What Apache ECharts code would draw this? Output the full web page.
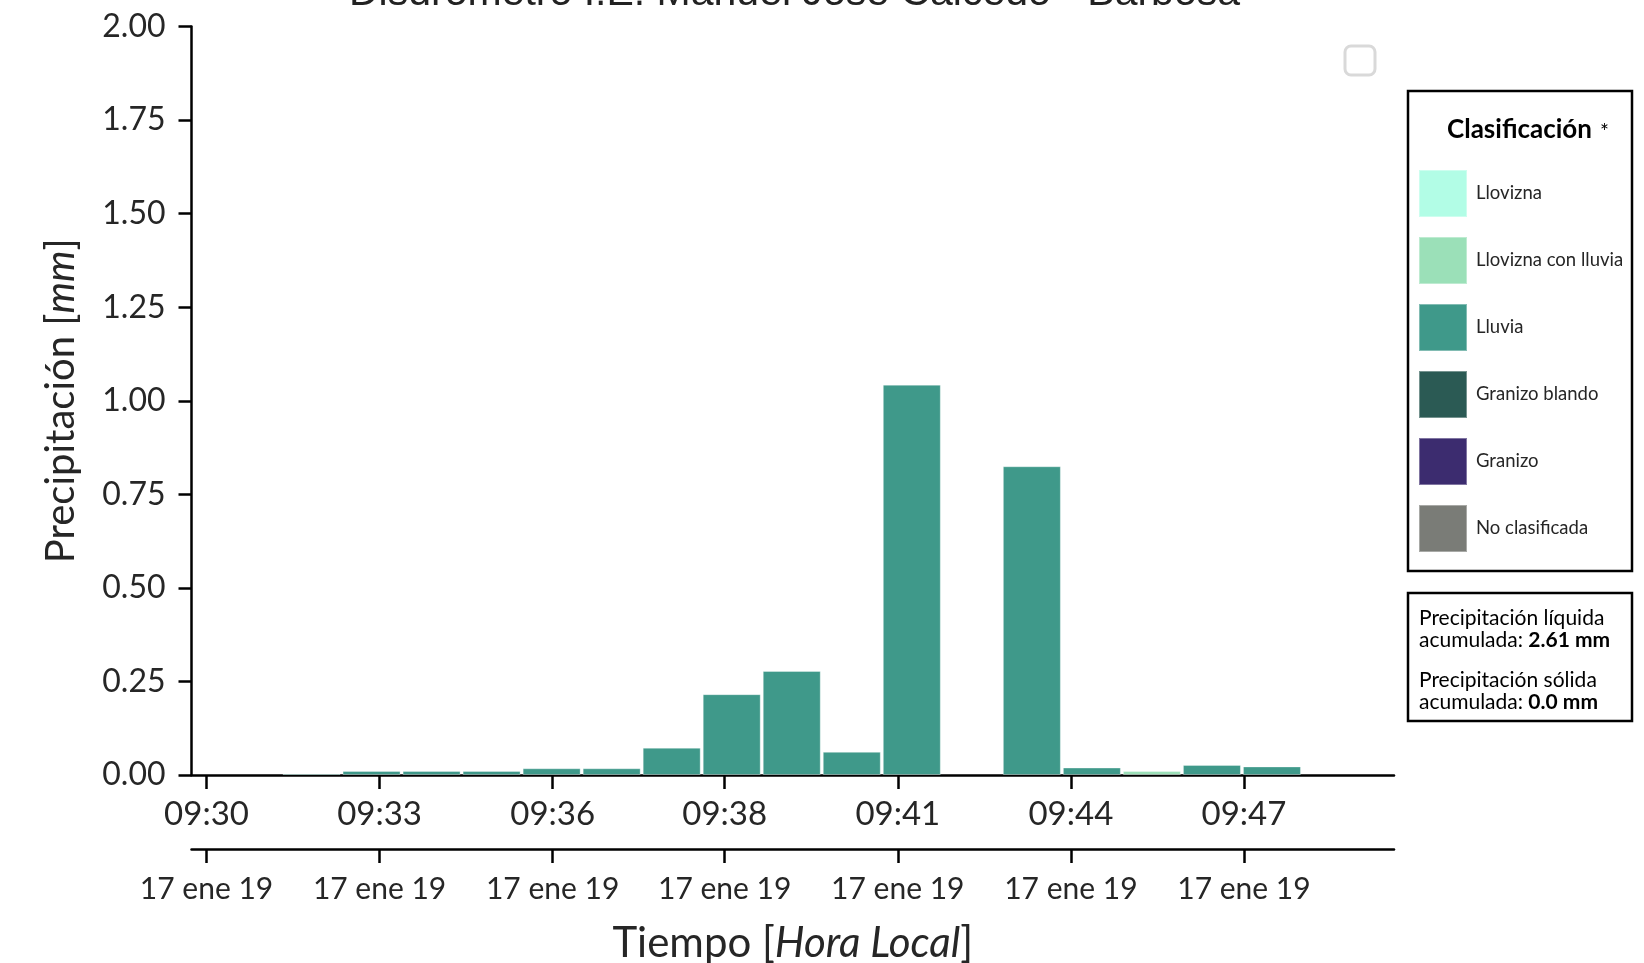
<!DOCTYPE html>
<html>
<head>
<meta charset="utf-8">
<script src="https://cdn.jsdelivr.net/npm/echarts@6/dist/echarts.min.js"></script>
<style>html,body{margin:0;padding:0;background:#fff}#c{width:1644px;height:963px}</style>
</head>
<body>
<div id="c"></div>
<script>
// ---- data ----
const titleText = 'Disdrómetro I.E. Manuel José Caicedo - Barbosa';
// bin centers (local time), one-minute bins
const binTimes = ['09:31:45','09:32:45','09:33:45','09:34:45','09:35:45','09:36:45','09:37:45','09:38:45','09:39:45','09:40:45','09:41:45','09:42:45','09:43:45','09:44:45','09:45:45','09:46:45','09:47:45'];
const classNames = ['Llovizna','Llovizna con lluvia','Lluvia','Granizo blando','Granizo','No clasificada'];
const classColors = ['#b2fde6','#9be0b8','#3f998a','#2b5a54','#3c2c6f','#7a7c77'];
const llovizna          = [0,0,0,0,0,0,0,0,0,0,0,0,0,0,0,0,0];
const lloviznaConLluvia = [0,0,0,0,0,0,0,0,0,0,0,0,0,0,0.011,0,0];
const lluvia            = [0.004,0.011,0.011,0.011,0.018,0.018,0.073,0.216,0.278,0.062,1.043,0,0.825,0.020,0,0.027,0.023];
const granizoBlando     = [0,0,0,0,0,0,0,0,0,0,0,0,0,0,0,0,0];
const granizo           = [0,0,0,0,0,0,0,0,0,0,0,0,0,0,0,0,0];
const noClasificada     = [0,0,0,0,0,0,0,0,0,0,0,0,0,0,0,0,0];
const tickTimes  = ['09:30:00','09:32:53','09:35:46','09:38:38','09:41:31','09:44:24','09:47:17'];
const tickLabels = ['09:30','09:33','09:36','09:38','09:41','09:44','09:47'];
const dateLabels = ['17 ene 19','17 ene 19','17 ene 19','17 ene 19','17 ene 19','17 ene 19','17 ene 19'];
const liquidTotal = '2.61 mm';
const solidTotal = '0.0 mm';

// ---- helpers ----
function toSec(t){const p=t.split(':').map(Number);return (p[0]*3600+p[1]*60+p[2])-(9*3600+30*60);}
const binX = binTimes.map(toSec);
const tickX = tickTimes.map(toSec);
const seriesValues = [llovizna,lloviznaConLluvia,lluvia,granizoBlando,granizo,noClasificada];

const FONT = 'Lato';
const TXT = '#262626';

const chart = echarts.init(document.getElementById('c'), null, {renderer:'canvas'});

const xBase = {
  type:'value', min:-15, max:1187,
  splitLine:{show:false},
  axisLine:{show:true,onZero:false,lineStyle:{color:'#000',width:2.5}},
  axisTick:{show:true,length:14,lineStyle:{color:'#000',width:2.5},customValues:tickX},
};

const option = {
  animation:false,
  backgroundColor:'#fff',
  grid:{left:191.5,right:250,top:26.5,bottom:188,containLabel:false,outerBoundsMode:'none'},
  xAxis:[
    Object.assign({}, xBase, {
      position:'bottom',
      axisLabel:{show:true,customValues:tickX,margin:23,fontFamily:FONT,fontSize:33,color:TXT,
        formatter:v=>{const i=tickX.indexOf(v);return i>=0?tickLabels[i]:'';}},
    }),
    Object.assign({}, xBase, {
      position:'bottom', offset:74,
      axisLabel:{show:true,customValues:tickX,margin:25,fontFamily:FONT,fontSize:30,color:TXT,
        formatter:v=>{const i=tickX.indexOf(v);return i>=0?dateLabels[i]:'';}},
      name:'{n|Tiempo [}{i|Hora Local}{n|]}',
      nameLocation:'middle', nameGap:73,
      nameTextStyle:{rich:{n:{fontFamily:FONT,fontSize:42,color:TXT},i:{fontFamily:FONT,fontSize:42,fontStyle:'italic',color:TXT}}}
    })
  ],
  yAxis:{
    type:'value',min:0,max:2,interval:0.25,
    splitLine:{show:false},
    axisLine:{show:true,onZero:false,lineStyle:{color:'#000',width:2.5}},
    axisTick:{show:true,length:13,lineStyle:{color:'#000',width:2.5}},
    axisLabel:{margin:26,fontFamily:FONT,fontSize:32,color:TXT,formatter:v=>v.toFixed(2)},
    name:'{n|Precipitación [}{i|mm}{n|]}',
    nameLocation:'middle',nameRotate:90,nameGap:110,
    nameTextStyle:{rich:{n:{fontFamily:FONT,fontSize:40,color:TXT},i:{fontFamily:FONT,fontSize:40,fontStyle:'italic',color:TXT}}}
  },
  legend:{
    orient:'vertical',left:1413,top:164,
    itemWidth:48,itemHeight:47,itemGap:18,icon:'rect',
    selectedMode:false,
    data:classNames,
    textStyle:{fontFamily:FONT,fontSize:18.5,color:TXT,padding:[0,0,0,4]}
  },
  series:classNames.map((name,k)=>({
    name:name,type:'bar',xAxisIndex:0,
    barWidth:58,barGap:'-100%',
    itemStyle:{color:classColors[k],borderColor:'rgba(255,255,255,0.35)',borderWidth:1},
    data:binX.map((x,i)=>[x,seriesValues[k][i]===0?null:seriesValues[k][i]])
  })),
  graphic:[
    {type:'text',top:-27,left:349,style:{text:titleText,fontFamily:'Liberation Sans',fontSize:41,fill:'#222'}},
    {type:'rect',shape:{x:1345,y:46,width:30,height:29,r:6},style:{fill:'none',stroke:'#d9d9d9',lineWidth:3}},
    {type:'rect',shape:{x:1408,y:91,width:224,height:480},style:{fill:'none',stroke:'#000',lineWidth:2.5}},
    {type:'text',style:{x:1447,y:130,text:'Clasificación',fontFamily:FONT,fontWeight:'bold',fontSize:26,fill:'#000',verticalAlign:'middle'}},
    {type:'text',style:{x:1600,y:132,text:'*',fontFamily:FONT,fontSize:21,fill:'#000',verticalAlign:'middle'}},
    {type:'rect',shape:{x:1408,y:593,width:224,height:128},style:{fill:'none',stroke:'#000',lineWidth:2.5}},
    {type:'text',style:{x:1419,y:607,text:'{n|Precipitación líquida}\n{n|acumulada: }{b|'+liquidTotal+'}',
      rich:{n:{fontFamily:FONT,fontSize:21,color:'#333',lineHeight:22},b:{fontFamily:FONT,fontSize:21,fontWeight:'bold',color:'#000',lineHeight:22}}}},
    {type:'text',style:{x:1419,y:669,text:'{n|Precipitación sólida}\n{n|acumulada: }{b|'+solidTotal+'}',
      rich:{n:{fontFamily:FONT,fontSize:21,color:'#333',lineHeight:22},b:{fontFamily:FONT,fontSize:21,fontWeight:'bold',color:'#000',lineHeight:22}}}}
  ]
};
chart.setOption(option);
</script>
</body>
</html>
